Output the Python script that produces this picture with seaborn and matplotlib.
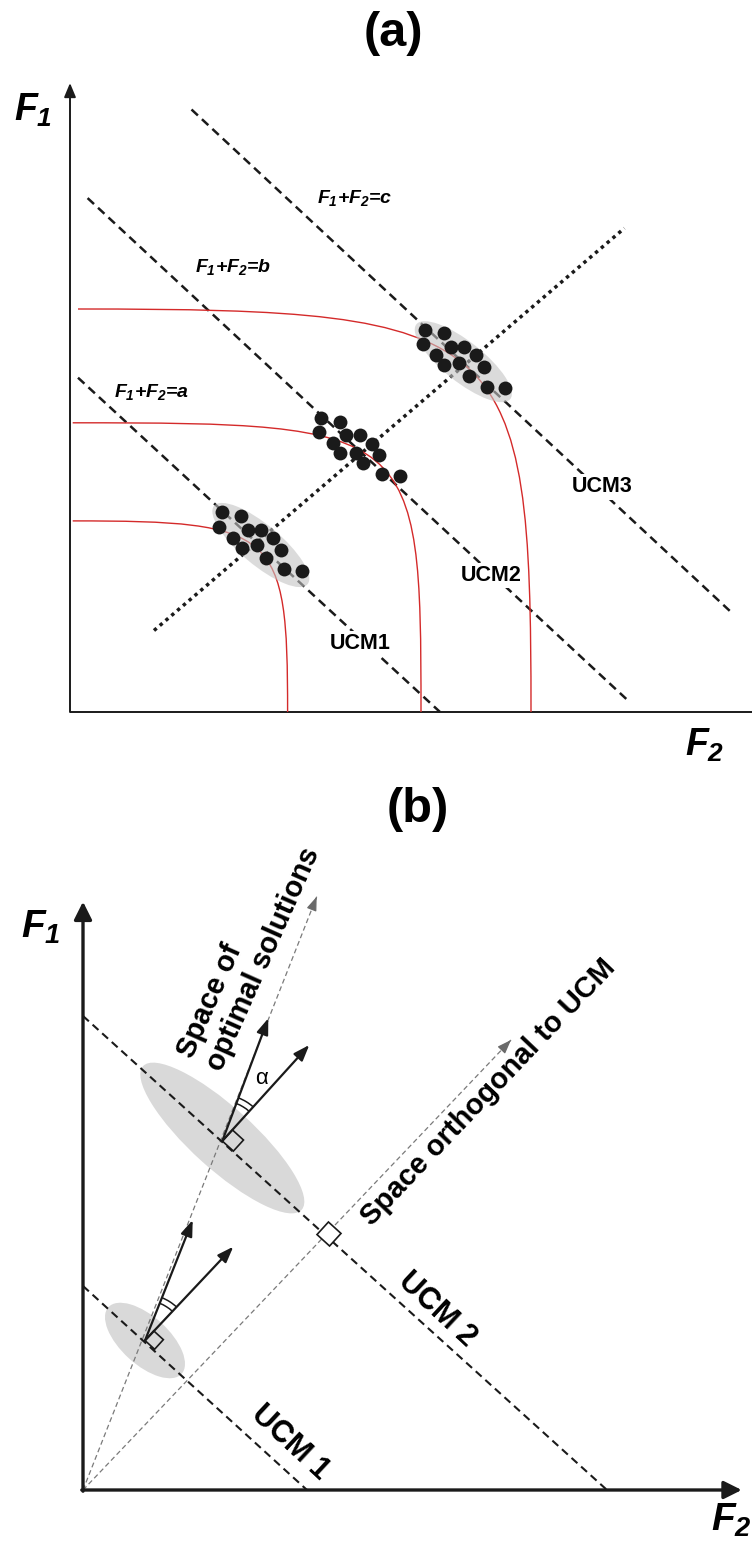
import numpy as np
import pandas as pd
import matplotlib
matplotlib.use('Agg')
import matplotlib.pyplot as plt
import seaborn as sns
from matplotlib.patches import Ellipse, PathPatch, Polygon, Arc
from matplotlib.path import Path

sns.set_theme(style='white')
plt.rcParams['font.family'] = ['Liberation Sans', 'DejaVu Sans']
plt.rcParams['text.color'] = 'black'
plt.rcParams['mathtext.fontset'] = 'custom'
# digits in math go through the "rm" slot, so make it bold italic for F_1 / F_2
plt.rcParams['mathtext.rm'] = 'Liberation Sans:italic:bold'
plt.rcParams['mathtext.it'] = 'Liberation Sans:italic:bold'
plt.rcParams['mathtext.bf'] = 'Liberation Sans:bold'

# --- DATA: panel (a), units measured from the F2/F1 origin ---
ucm_a_names = ['UCM1', 'UCM2', 'UCM3']
ucm_a_f2 = [[8, 370], [17.6, 558.5], [121.5, 661.5]]
ucm_a_f1 = [[334.3, 0], [513.9, 11], [602.5, 99.5]]
ucm_a_label_xy = [(289.8, 68.8), (421.4, 136.8), (531.9, 225.1)]

sum_names = ['a', 'b', 'c']
sum_label_xy = [(82, 319.8), (163.5, 445), (285, 514)]

diag_f2 = [84, 554.4]
diag_f1 = [81.5, 483.8]

# red curves: start, two bezier control points, end
curve_p0 = [(2.7, 191.1), (2.7, 289.2), (8, 403)]
curve_p1 = [(207.6, 191.1), (346, 289.2), (441, 403)]
curve_p2 = [(217.6, 181.1), (351, 284.2), (461, 383)]
curve_p3 = [(217.6, 0), (351, 0), (461, 0)]

dots_f2 = [151.7, 171, 149.3, 177.7, 191, 163.3, 202.7, 171.7, 186.7, 210.7, 195.7, 214.3, 232.3,
           250.7, 270, 249, 276, 290, 262.7, 302.3, 270, 285.7, 309.3, 293.3, 312.3, 330,
           355, 374.3, 353.3, 380.7, 394.3, 366, 406, 374.3, 388.7, 413.7, 399.3, 417.3, 435.3]
dots_f1 = [199.7, 196.3, 185.3, 182, 182, 174.3, 174.3, 163.7, 167, 162, 153.7, 142.7, 141,
           293.7, 290.3, 279.7, 277, 277, 269.3, 268, 258.7, 259.3, 257, 248.7, 237.7, 236.3,
           382, 378.7, 367.7, 365.3, 364.7, 357, 357, 347, 348.7, 345.3, 336, 325.3, 323.7]

cloud_a_xy = [(190.8, 167), (393.3, 350.3)]
cloud_a_len = [122, 120]
cloud_a_wid = [40, 40]
cloud_a_ang = [-40, -38.5]

# --- DATA: panel (b) ---
ucm_b_names = ['UCM 1', 'UCM 2']
ucm_b_f2 = [[0, 224], [0, 524]]
ucm_b_f1 = [[204, 0], [474, 0]]
ucm_b_label_xy = [(206.7, 47.5), (353.7, 180)]

opt_tip = (233.7, 593.3)
orth_tip = (428, 450)
vertex_xy = [(62, 149.5), (139.3, 349)]
long_tip = [(109.7, 270), (185.3, 471.7)]
short_tip = [(150.3, 243.3), (226.3, 445)]
orth_cross = (246, 256)

cloud_b_xy = [(62, 149.5), (139.3, 352)]
cloud_b_len = [99, 214]
cloud_b_wid = [48, 62]

# --- FIGURE ---
fig = plt.figure(figsize=(7.52, 15.47), dpi=100)
ax_a = fig.add_axes([0, 787 / 1547, 1, 760 / 1547])
ax_b = fig.add_axes([0, 0, 1, 787 / 1547])
ax_a.set_xlim(-70, 682)
ax_a.set_ylim(-48, 712)
ax_b.set_xlim(-83, 669)
ax_b.set_ylim(-57, 730)
for ax in (ax_a, ax_b):
    ax.axis('off')

# ===== panel (a) =====
ax_a.plot([0, 690], [0, 0], color='k', lw=1.4, solid_capstyle='butt', zorder=2)
ax_a.annotate('', xy=(0, 629), xytext=(0, 0),
              arrowprops=dict(arrowstyle='-|>,head_length=0.6,head_width=0.25', color='k',
                              lw=1.4, mutation_scale=14, shrinkA=0, shrinkB=0))

rows = []
for name, xs, ys in zip(ucm_a_names, ucm_a_f2, ucm_a_f1):
    for x, y in zip(xs, ys):
        rows.append({'line': name, 'F2': x, 'F1': y})
ucm_a = pd.DataFrame(rows)
sns.lineplot(data=ucm_a, x='F2', y='F1', units='line', estimator=None, sort=False,
             color='k', lw=1.8, linestyle=(0, (3.5, 2.2)), ax=ax_a, zorder=3)

sns.lineplot(x=diag_f2, y=diag_f1, sort=False, estimator=None, color='k', lw=2.5,
             linestyle=(0, (1, 1.2)), ax=ax_a, zorder=3)

for p0, p1, p2, p3 in zip(curve_p0, curve_p1, curve_p2, curve_p3):
    path = Path([p0, p1, p2, p3], [Path.MOVETO, Path.CURVE4, Path.CURVE4, Path.CURVE4])
    ax_a.add_patch(PathPatch(path, facecolor='none', edgecolor='#d42a2a', lw=1.0, zorder=3))

for xy, ln, wd, ang in zip(cloud_a_xy, cloud_a_len, cloud_a_wid, cloud_a_ang):
    ax_a.add_patch(Ellipse(xy, ln, wd, angle=ang, facecolor='#c4c4c4', edgecolor='none',
                           alpha=0.6, zorder=4))

sns.scatterplot(x=dots_f2, y=dots_f1, s=100, color='k', edgecolor='k', linewidth=0,
                ax=ax_a, zorder=5, legend=False)

for name, (x, y) in zip(ucm_a_names, ucm_a_label_xy):
    ax_a.text(x, y, name, fontsize=15.5, fontweight='bold', ha='center', va='center', zorder=6,
              bbox=dict(facecolor='white', edgecolor='none', pad=1.5))

for s, (x, y) in zip(sum_names, sum_label_xy):
    ax_a.text(x, y, r'$F_{1}$+$F_{2}$=$' + s + '$', fontsize=14,
              fontweight='bold', style='italic', ha='center', va='center', zorder=6)

ax_a.text(-37, 602, r'$F_{1}$', fontsize=27, ha='center', va='center')
ax_a.text(635, -33, r'$F_{2}$', fontsize=27, ha='center', va='center')
ax_a.text(323, 678, '(a)', fontsize=35, fontweight='bold', ha='center', va='center')

# ===== panel (b) =====
axis_arrow = dict(arrowstyle='-|>,head_length=0.6,head_width=0.3', color='k', lw=2.4,
                  mutation_scale=18, shrinkA=0, shrinkB=0)
ax_b.annotate('', xy=(0, 588.3), xytext=(0, -1.2), arrowprops=axis_arrow)
ax_b.annotate('', xy=(658.7, 0), xytext=(-1.2, 0), arrowprops=axis_arrow)

for xy, ln, wd, (vx, vy) in zip(cloud_b_xy, cloud_b_len, cloud_b_wid, [(224, 204), (524, 474)]):
    ang = -np.degrees(np.arctan2(vy, vx))
    ax_b.add_patch(Ellipse(xy, ln, wd, angle=ang, facecolor='#d9d9d9', edgecolor='none', zorder=1))

rows = []
for name, xs, ys in zip(ucm_b_names, ucm_b_f2, ucm_b_f1):
    for x, y in zip(xs, ys):
        rows.append({'line': name, 'F2': x, 'F1': y})
ucm_b = pd.DataFrame(rows)
sns.lineplot(data=ucm_b, x='F2', y='F1', units='line', estimator=None, sort=False,
             color='k', lw=1.5, linestyle=(0, (3.8, 2.4)), ax=ax_b, zorder=3)

# grey guide lines from the origin
for tip in (opt_tip, orth_tip):
    sns.lineplot(x=[0, tip[0]], y=[0, tip[1]], sort=False, estimator=None, color='#7a7a7a',
                 lw=0.9, linestyle=(0, (4, 2.5)), ax=ax_b, zorder=2)
    d = np.array(tip) / np.hypot(*tip)
    ax_b.annotate('', xy=tip, xytext=tuple(np.array(tip) - 12 * d),
                  arrowprops=dict(arrowstyle='-|>,head_length=0.6,head_width=0.22',
                                  color='#6a6a6a', lw=0.9, mutation_scale=14,
                                  shrinkA=0, shrinkB=0), zorder=2)

# black vectors with the angle marks
u = np.array([224.0, -204.0])
u /= np.hypot(*u)
n = np.array([-u[1], u[0]])
for v, lt, st, side in zip(vertex_xy, long_tip, short_tip, [13, 15]):
    for tip in (lt, st):
        ax_b.annotate('', xy=tip, xytext=v,
                      arrowprops=dict(arrowstyle='-|>,head_length=0.6,head_width=0.22', color='k',
                                      lw=1.6, mutation_scale=16, shrinkA=0, shrinkB=0), zorder=5)
    a1 = np.degrees(np.arctan2(st[1] - v[1], st[0] - v[0]))
    a2 = np.degrees(np.arctan2(lt[1] - v[1], lt[0] - v[0]))
    for r in (40, 46):
        ax_b.add_patch(Arc(v, 2 * r, 2 * r, theta1=a1, theta2=a2, color='k', lw=1.1, zorder=5))
    vv = np.array(v)
    sq = [vv, vv + side * u, vv + side * (u + n), vv + side * n]
    ax_b.add_patch(Polygon(sq, closed=True, facecolor='none', edgecolor='k', lw=1.2, zorder=5))

c = np.array(orth_cross)
h = 8.5
sq = [c - h * u - h * n, c + h * u - h * n, c + h * u + h * n, c - h * u + h * n]
ax_b.add_patch(Polygon(sq, closed=True, facecolor='white', edgecolor='k', lw=1.2, zorder=6))

# texts
ax_b.text(334.5, 680, '(b)', fontsize=35, fontweight='bold', ha='center', va='center')
ax_b.text(-42, 563, r'$F_{1}$', fontsize=28, ha='center', va='center')
ax_b.text(648, -30, r'$F_{2}$', fontsize=28, ha='center', va='center')
ax_b.text(166, 537.5, 'Space of\noptimal solutions', fontsize=21, fontweight='bold',
          rotation=66, rotation_mode='anchor', ha='center', va='center', multialignment='left',
          linespacing=1.15)
ax_b.text(405, 397.5, 'Space orthogonal to UCM', fontsize=21, fontweight='bold',
          rotation=46.5, rotation_mode='anchor', ha='center', va='center')
for name, (x, y) in zip(ucm_b_names, ucm_b_label_xy):
    ax_b.text(x, y, name, fontsize=22, fontweight='bold', rotation=-43,
              rotation_mode='anchor', ha='center', va='center')
ax_b.text(179, 411, 'α', fontsize=16, ha='center', va='center')

fig.savefig('out.png', dpi=100)
